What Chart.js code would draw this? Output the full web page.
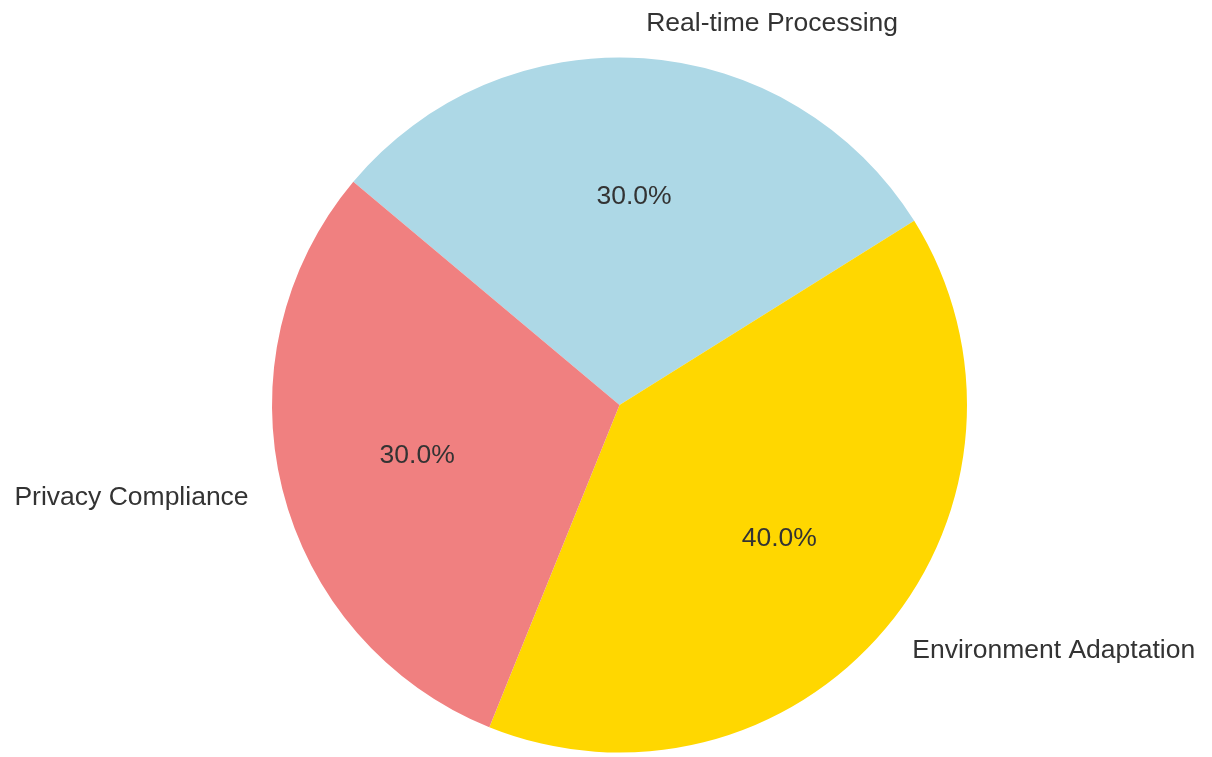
<!DOCTYPE html>
<html>
<head>
<meta charset="utf-8">
<script src="https://cdn.jsdelivr.net/npm/chart.js@4/dist/chart.umd.min.js"></script>
<style>
  html, body { margin: 0; padding: 0; background: #ffffff; }
  #wrap { width: 1212px; height: 757px; position: relative; }
</style>
</head>
<body>
<div id="wrap"><canvas id="pie"></canvas></div>
<script>
// Slice data, listed clockwise from the top-left boundary
const categories = ['Real-time Processing', 'Environment Adaptation', 'Privacy Compliance'];
const shares = [30, 40, 30];
const sliceColors = ['#ADD8E6', '#FFD700', '#F08080'];

const TEXT_COLOR = '#333333';
const FONT = '"Liberation Sans", Arial, sans-serif';

// Draws category names outside the pie and percentages inside each slice
const sliceLabels = {
  id: 'sliceLabels',
  afterDatasetsDraw(chart) {
    const ctx = chart.ctx;
    const meta = chart.getDatasetMeta(0);
    const values = chart.data.datasets[0].data;
    const total = values.reduce((a, b) => a + b, 0);
    ctx.save();
    ctx.fillStyle = TEXT_COLOR;
    ctx.font = '26.5px ' + FONT;
    ctx.textBaseline = 'middle';
    meta.data.forEach((arc, i) => {
      const p = arc.getProps(['x', 'y', 'startAngle', 'endAngle', 'outerRadius'], true);
      const mid = (p.startAngle + p.endAngle) / 2;
      const c = Math.cos(mid), s = Math.sin(mid);
      // outer category label
      const lx = p.x + c * p.outerRadius * 1.1;
      const ly = p.y + s * p.outerRadius * 1.1;
      ctx.textAlign = c >= 0 ? 'left' : 'right';
      ctx.fillText(chart.data.labels[i], lx, ly);
      // inner percentage label
      const px = p.x + c * p.outerRadius * 0.6;
      const py = p.y + s * p.outerRadius * 0.6;
      ctx.textAlign = 'center';
      ctx.fillText((values[i] / total * 100).toFixed(1) + '%', px, py);
    });
    ctx.restore();
  }
};

new Chart(document.getElementById('pie'), {
  type: 'pie',
  data: {
    labels: categories,
    datasets: [{
      data: shares,
      backgroundColor: sliceColors,
      borderWidth: 0,
      hoverOffset: 0
    }]
  },
  options: {
    responsive: true,
    maintainAspectRatio: false,
    animation: false,
    rotation: -50,
    layout: { padding: { left: 272, right: 245, top: 57, bottom: 4 } },
    plugins: {
      legend: { display: false },
      tooltip: { enabled: false }
    },
    events: []
  },
  plugins: [sliceLabels]
});
</script>
</body>
</html>
